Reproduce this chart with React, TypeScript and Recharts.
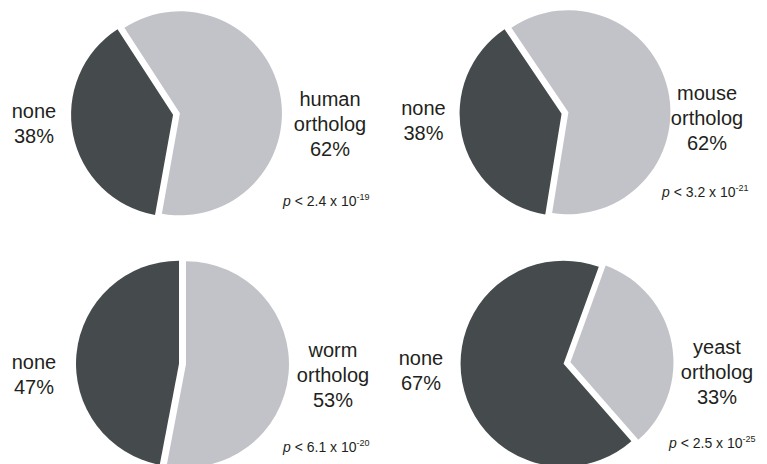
import React from 'react';
import { PieChart, Pie, Cell } from 'recharts';

// Share of genes with / without an ortholog in each organism
const organisms = ['human', 'mouse', 'worm', 'yeast'];
const orthologPct = [62, 62, 53, 33];
const nonePct = [38, 38, 47, 67];
const pMantissa = ['2.4', '3.2', '6.1', '2.5'];
const pExponent = ['-19', '-21', '-20', '-25'];

const sliceNames = ['none', 'ortholog'];
const sliceColors = ['#454b4d', '#c1c3c8'];

const W = 767;
const H = 464;
const EXPLODE = 3.5;
const FONT = '"Liberation Sans", Arial, Helvetica, sans-serif';
const TEXT = '#231f20';

// Layout of each panel: pie centre, radius, first-slice angle and label anchors
const layout = [
  { cx: 176.5, cy: 114, r: 102, start: 123, none: [34, 118], ortho: [330, 106], p: [283, 206] },
  { cx: 565, cy: 113, r: 102, start: 124, none: [423.5, 115], ortho: [707, 100], p: [662, 197] },
  { cx: 182.5, cy: 364, r: 103, start: 90, none: [34, 369], ortho: [333, 357], p: [283, 452] },
  { cx: 567, cy: 363, r: 103, start: 70, none: [421, 365], ortho: [717, 354], p: [669, 448] },
];

const panelData = organisms.map((org, i) => [
  { name: sliceNames[0], value: nonePct[i] },
  { name: sliceNames[1], value: orthologPct[i] },
]);

// Each slice is drawn by its own Pie whose centre is pushed out along the slice's mid-angle
function explodedPies(idx: number) {
  const data = panelData[idx];
  const { cx, cy, r, start } = layout[idx];
  const total = data.reduce((s, d) => s + d.value, 0);
  let cum = 0;
  return data.map((slice, si) => {
    const mid = start + (360 * (cum + slice.value / 2)) / total;
    cum += slice.value;
    const rad = (mid * Math.PI) / 180;
    const ox = EXPLODE * Math.cos(rad);
    const oy = -EXPLODE * Math.sin(rad);
    return (
      <Pie
        key={`pie-${idx}-${si}`}
        data={data}
        dataKey="value"
        nameKey="name"
        cx={cx + ox}
        cy={cy + oy}
        innerRadius={0}
        outerRadius={r}
        startAngle={start}
        endAngle={start + 360}
        stroke="none"
        label={false}
        labelLine={false}
        legendType="none"
        isAnimationActive={false}
      >
        {data.map((d, ci) => (
          <Cell key={`c-${ci}`} fill={ci === si ? sliceColors[ci] : 'none'} stroke="none" />
        ))}
      </Pie>
    );
  });
}

function Labels() {
  return (
    <svg
      width={W}
      height={H}
      style={{ position: 'absolute', left: 0, top: 0, pointerEvents: 'none' }}
    >
      {organisms.map((org, i) => {
        const L = layout[i];
        return (
          <g key={org} fontFamily={FONT} fill={TEXT}>
            <text x={L.none[0]} y={L.none[1]} fontSize={20} textAnchor="middle">none</text>
            <text x={L.none[0]} y={L.none[1] + 25} fontSize={20} textAnchor="middle">{`${nonePct[i]}%`}</text>
            <text x={L.ortho[0]} y={L.ortho[1]} fontSize={20} textAnchor="middle">{org}</text>
            <text x={L.ortho[0]} y={L.ortho[1] + 25} fontSize={20} textAnchor="middle">ortholog</text>
            <text x={L.ortho[0]} y={L.ortho[1] + 50} fontSize={20} textAnchor="middle">{`${orthologPct[i]}%`}</text>
            <text x={L.p[0]} y={L.p[1]} fontSize={14}>
              <tspan fontStyle="italic">p</tspan>
              <tspan>{` < ${pMantissa[i]} x 10`}</tspan>
              <tspan fontSize={9} dy={-6.5}>{pExponent[i]}</tspan>
            </text>
          </g>
        );
      })}
    </svg>
  );
}

export default function App() {
  return (
    <div style={{ position: 'absolute', left: 0, top: 0, width: W, height: H, background: '#fff', overflow: 'hidden' }}>
      <PieChart width={W} height={H} margin={{ top: 0, right: 0, bottom: 0, left: 0 }}>
        {organisms.map((_, i) => explodedPies(i))}
      </PieChart>
      <Labels />
    </div>
  );
}
